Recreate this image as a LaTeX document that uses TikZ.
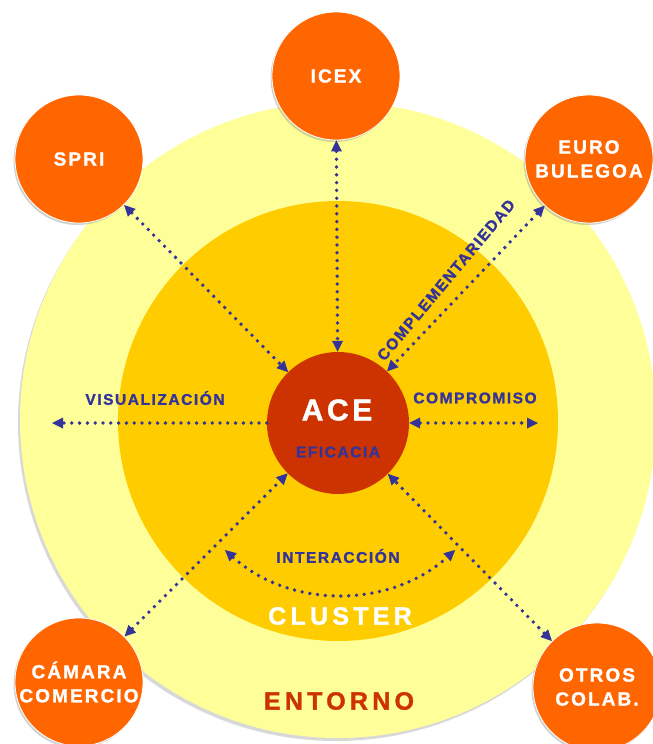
\documentclass[tikz,border=0pt]{standalone}
\usepackage{fontspec}
\setmainfont{Liberation Sans}
\usetikzlibrary{arrows.meta,shadows}

\definecolor{paleyellow}{HTML}{FFFF99}
\definecolor{clustergold}{HTML}{FFCC00}
\definecolor{acered}{HTML}{CC3300}
\definecolor{orgorange}{HTML}{FF6600}
\definecolor{linknavy}{HTML}{333399}

% bold spaced caps: size, baselineskip, letter spacing
\newcommand{\capsfont}[3]{\fontsize{#1}{#2}\selectfont\bfseries\addfontfeature{LetterSpace=#3,FakeBold=1.3}}

\begin{document}
\begin{tikzpicture}[
    x=1pt, y=-1pt,
    >={Triangle[length=11pt,width=11pt,line width=0pt]},
    ring/.style={circle, inner sep=0pt},
    org/.style={circle, draw=white, line width=0.8pt, fill=orgorange, minimum size=128pt, inner sep=0pt,
        align=center, text=white, font=\capsfont{19}{24}{11},
        drop shadow={shadow xshift=-1.5pt, shadow yshift=-2pt, opacity=0.35}},
    tag/.style={text=linknavy, font=\capsfont{15.5}{18}{10}, inner sep=0pt},
    arr/.style={<->, linknavy, line width=3.8pt, line cap=round, dash pattern=on 0pt off 7.8pt},
    arr1/.style={arr, ->}
]
\useasboundingbox (0,0) rectangle (653,744);
\fill[white] (0,0) rectangle (653,744);
\clip (0,0) rectangle (653,744);

\node[ring, fill=paleyellow, minimum size=636pt,
    drop shadow={shadow xshift=-2pt, shadow yshift=-3pt, opacity=0.3}] (entorno) at (338,420) {};
\node[ring, fill=clustergold, minimum size=440pt] (cluster) at (338,421) {};
\node[ring, fill=acered, minimum size=142pt] (ace) at (338,423) {};

\node[org] (icex) at (336,76) {ICEX};
\node[org] (spri) at (79,159) {SPRI};
\node[org] (euro) at (589,159) {EURO\\BULEGOA};
\node[org] (camara) at (79,682) {CÁMARA\\COMERCIO};
\node[org] (otros) at (597,687) {OTROS\\COLAB.};

\node[text=white, font=\capsfont{30}{30}{12}] (acetxt) at (337,410) {ACE};
\node[tag] (eficacia) at (338,452) {EFICACIA};
\node[tag] (visual) at (155,398) {VISUALIZACIÓN};
\node[tag] (compromiso) at (475,398) {COMPROMISO};
\node[tag] (interaccion) at (338,556) {INTERACCIÓN};
\node[tag, rotate=50] (complement) at (446,280) {COMPLEMENTARIEDAD};
\node[text=white, font=\capsfont{25}{25}{17}] (clustertxt) at (340,616) {CLUSTER};
\node[text=acered, font=\capsfont{25}{25}{17}] (entornotxt) at (339,701) {ENTORNO};

\coordinate (visend) at (52,423);
\coordinate (compend) at (538,423);
\coordinate (ia) at (225,550);

\draw[arr] (icex) -- (ace);
\draw[arr] (spri) -- (ace);
\draw[arr] (euro) -- (ace);
\draw[arr] (camara) -- (ace);
\draw[arr] (otros) -- (ace);
\draw[arr1] (ace) -- (visend);
\draw[arr] (ace) -- (compend);
\draw[arr] (ia) arc[start angle=132, end angle=48, radius=172];
\end{tikzpicture}
\end{document}
